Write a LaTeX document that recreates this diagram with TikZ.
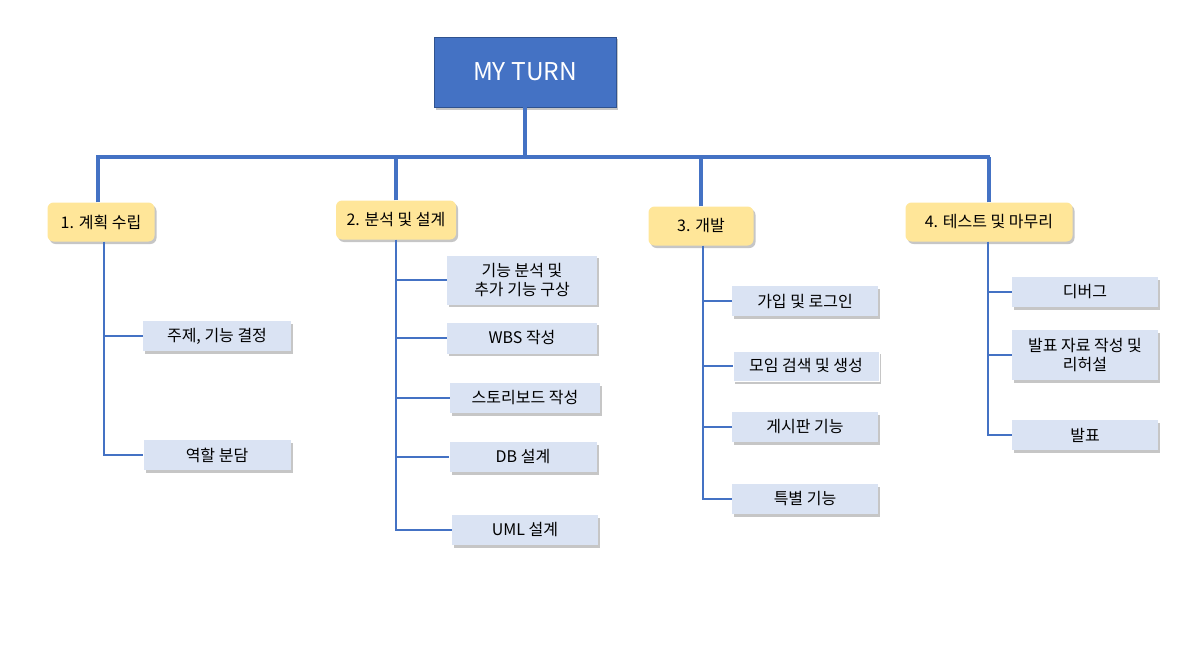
\documentclass[tikz,border=0pt]{standalone}
\usepackage{fontspec}
\setmainfont{Noto Sans CJK KR}
\usepackage{xcolor}
\usetikzlibrary{shadows}
\definecolor{main}{HTML}{4472C4}
\definecolor{mainedge}{HTML}{2F528F}
\definecolor{phase}{HTML}{FFE699}
\definecolor{task}{HTML}{DAE3F3}

\begin{document}
\begin{tikzpicture}[
  x=1pt,y=-1pt,
  soft/.style={drop shadow={shadow xshift=2pt,shadow yshift=-2.5pt,fill=black!50,opacity=.45}},
  rootbox/.style={draw=mainedge,fill=main,text=white,minimum width=182pt,minimum height=70pt,font=\fontsize{24.5}{28}\selectfont,soft},
  phasebox/.style={fill=phase,rounded corners=6pt,minimum height=39pt,inner xsep=2pt,font=\fontsize{16}{19}\selectfont,soft},
  taskbox/.style={fill=task,minimum width=146pt,minimum height=30pt,inner xsep=2pt,align=center,font=\fontsize{16}{19}\selectfont,soft},
  trunk/.style={draw=main,line width=3.5pt},
  branch/.style={draw=main,line width=2pt}
]
\useasboundingbox (0,0) rectangle (1192,661);

% top
\node[rootbox] (root) at (525,72) {MY TURN};
\coordinate (barL) at (98,157);
\coordinate (barR) at (988,157);

% phases
\node[phasebox,minimum width=107pt] (plan) at (101,222) {1. 계획 수립};
\node[phasebox,minimum width=120pt] (design) at (396,220) {2. 분석 및 설계};
\node[phasebox,minimum width=105pt] (dev) at (701,226) {3. 개발};
\node[phasebox,minimum width=167pt] (test) at (989,222) {4. 테스트 및 마무리};

% tasks
\node[taskbox,minimum width=148pt] (p1) at (217,336) {주제, 기능 결정};
\node[taskbox,minimum width=147pt] (p2) at (217,455) {역할 분담};

\node[taskbox,minimum width=150pt,minimum height=49pt] (d1) at (522,280) {기능 분석 및\\추가 기능 구상};
\node[taskbox,minimum width=150pt,minimum height=31pt] (d2) at (522,338) {WBS 작성};
\node[taskbox,minimum width=150pt] (d3) at (525,398) {스토리보드 작성};
\node[taskbox,minimum width=147pt] (d4) at (523,457) {DB 설계};
\node[taskbox,minimum width=146pt] (d5) at (525,530) {UML 설계};

\node[taskbox] (v1) at (805,301) {가입 및 로그인};
\node[taskbox,draw=white,line width=1pt] (v2) at (806,366) {모임 검색 및 생성};
\node[taskbox] (v3) at (805,427) {게시판 기능};
\node[taskbox] (v4) at (805,499) {특별 기능};

\node[taskbox] (t1) at (1085,292) {디버그};
\node[taskbox,minimum height=50pt] (t2) at (1085,355) {발표 자료 작성 및\\리허설};
\node[taskbox] (t3) at (1085,435) {발표};

% trunk lines
\draw[trunk] (root.south) -- (root.south |- barL);
\draw[trunk] ([xshift=-1.75pt]barL) -- ([xshift=1.75pt]barR);
\draw[trunk] (plan.north -| barL) -- (barL);
\draw[trunk] (design.north) -- (design.north |- barL);
\draw[trunk] (dev.north) -- (dev.north |- barL);
\draw[trunk] (test.north) -- (test.north |- barL);

% branches
\draw[branch] ([xshift=3pt]plan.south) |- (p2.west);
\draw[branch] ([xshift=3pt]plan.south |- p1.west) -- (p1.west);

\draw[branch] (design.south) |- (d5.west);
\draw[branch] (design.south |- d1.west) -- (d1.west);
\draw[branch] (design.south |- d2.west) -- (d2.west);
\draw[branch] (design.south |- d3.west) -- (d3.west);
\draw[branch] (design.south |- d4.west) -- (d4.west);

\draw[branch] ([xshift=2pt]dev.south) |- (v4.west);
\draw[branch] ([xshift=2pt]dev.south |- v1.west) -- (v1.west);
\draw[branch] ([xshift=2pt]dev.south |- v2.west) -- (v2.west);
\draw[branch] ([xshift=2pt]dev.south |- v3.west) -- (v3.west);

\draw[branch] ([xshift=-1pt]test.south) |- (t3.west);
\draw[branch] ([xshift=-1pt]test.south |- t1.west) -- (t1.west);
\draw[branch] ([xshift=-1pt]test.south |- t2.west) -- (t2.west);
\end{tikzpicture}
\end{document}
